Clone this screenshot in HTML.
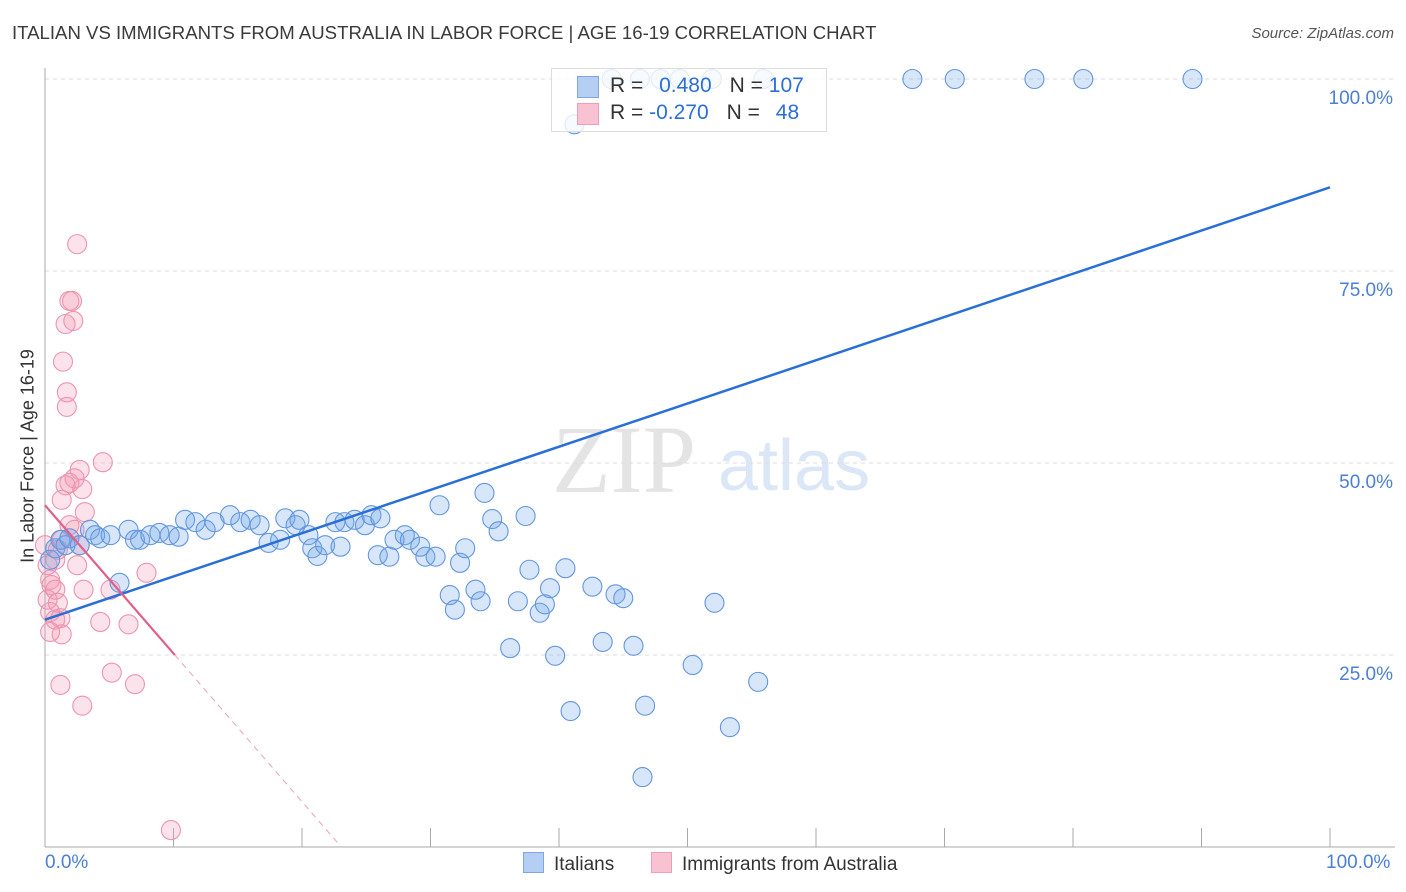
<!DOCTYPE html>
<html><head><meta charset="utf-8">
<style>
body{margin:0;background:#fff;font-family:"Liberation Sans",sans-serif;}
#wrap{position:relative;width:1406px;height:892px;overflow:hidden;}
.t{position:absolute;white-space:nowrap;}
</style></head>
<body>
<div id="wrap">
<div class="t" style="left:12px;top:22px;font-size:18.6px;color:#3a3a3a;">ITALIAN VS IMMIGRANTS FROM AUSTRALIA IN LABOR FORCE | AGE 16-19 CORRELATION CHART</div>
<div class="t" style="right:12px;top:25px;font-size:15px;color:#555;font-style:italic;">Source: ZipAtlas.com</div>
<svg id="chart" width="1406" height="892" style="position:absolute;left:0;top:0"></svg>
</div>
<script>
const blueX=[0.4,0.8,1.2,1.6,1.9,2.7,3.5,3.9,4.3,5.1,5.8,6.5,7.0,7.4,8.2,8.9,9.7,10.4,10.9,11.7,12.5,13.2,14.4,15.2,16.0,16.7,17.4,18.3,18.7,19.5,19.8,20.5,20.8,21.2,21.8,22.6,23.0,23.3,24.1,24.9,25.4,26.1,25.9,26.8,27.2,28.0,28.4,29.2,29.6,30.4,30.7,31.5,31.9,32.3,32.7,33.5,33.9,34.2,34.8,35.3,36.2,36.8,37.4,37.7,38.5,38.9,39.3,39.7,40.5,40.9,41.2,42.6,43.4,44.4,45.0,45.8,46.7,46.5,50.4,52.1,53.3,55.5,44.1,46.3,47.9,49.4,51.9,55.9,67.5,70.8,77.0,80.8,89.3];
const blueY=[37.4,38.9,40.0,39.3,40.2,39.3,41.3,40.6,40.2,40.6,34.4,41.3,40.0,40.0,40.6,40.9,40.6,40.4,42.6,42.3,41.3,42.3,43.2,42.3,42.6,41.9,39.6,40.0,42.8,41.9,42.6,40.6,38.9,37.9,39.3,42.3,39.1,42.3,42.6,41.9,43.2,42.8,38.0,37.8,40.0,40.6,40.0,39.1,37.8,37.8,44.5,32.8,30.9,37.0,38.9,33.5,32.0,46.1,42.7,41.1,25.9,32.0,43.1,36.1,30.5,31.6,33.7,24.9,36.3,17.7,94.1,33.9,26.7,32.9,32.4,26.2,18.4,9.1,23.7,31.8,15.6,21.5,100,100,100,100,100,100,100,100,100,100,100];
const pinkX=[0,0.4,0.5,0.2,0.4,0.8,1.2,0.8,1.0,1.3,1.9,2.3,2.7,3.1,1.3,2.5,1.9,2.1,2.2,1.6,1.4,1.7,1.7,4.5,2.7,2.3,1.9,1.6,2.9,1.3,5.1,4.3,6.5,5.2,7.0,1.2,2.9,7.9,2.5,9.8,0.8,0.2,1.0,0.4,3.0];
const pinkY=[39.3,34.8,34.1,32.2,30.6,29.6,29.8,37.4,38.7,40.0,41.9,41.3,39.3,43.6,27.7,78.5,71.1,71.1,68.5,68.1,63.2,59.2,57.3,50.1,49.1,48.0,47.4,47.1,46.6,45.2,33.5,29.3,29.0,22.7,21.2,21.1,18.4,35.7,36.7,2.2,33.5,36.7,31.8,28.0,33.5];
const yTicks=[25,50,75,100];
const yTickLabels=["25.0%","50.0%","75.0%","100.0%"];
const xTicks=[0,10,20,30,40,50,60,70,80,90,100];
const blueTrend=[29.6,85.9];
const pinkTrend=[44.5,-1.93];
const X0=45,X1=1330,Y0=847,Y1=79;
const sx=v=>X0+(X1-X0)*v/100, sy=v=>Y0-(Y0-Y1)*v/100;
const svg=document.getElementById('chart');const NS='http://www.w3.org/2000/svg';
function mk(t,a){const e=document.createElementNS(NS,t);for(const k in a)e.setAttribute(k,a[k]);svg.appendChild(e);return e;}
let w=mk('text',{x:552,y:492,'font-family':'Liberation Serif,serif','font-size':96,fill:'#e4e4e4'});w.textContent='ZIP';


w=mk('text',{x:718,y:490,'font-family':'Liberation Sans,sans-serif','font-size':72,fill:'#dbe7f6'});w.textContent='atlas';


yTicks.forEach((v,i)=>{
 let g=mk('line',{x1:X0,x2:1395,y1:sy(v),y2:sy(v),stroke:'#dcdcdc','stroke-dasharray':'4,4'});
 
 
 let t=mk('text',{x:1393,y:sy(v)+25,'text-anchor':'end','font-size':19,fill:'#4a7fd4','font-family':'Liberation Sans,sans-serif'});t.textContent=yTickLabels[i];
 
 
});
let ax=mk('line',{x1:X0,x2:X0,y1:68,y2:Y0,stroke:'#aaa'});


ax=mk('line',{x1:X0,x2:1395,y1:Y0,y2:Y0,stroke:'#aaa'});


xTicks.forEach(v=>{let l=mk('line',{x1:sx(v),x2:sx(v),y1:Y0,y2:828,stroke:'#aaa'});
 
 });
function dot(x,y,c,s,name){const e=mk('circle',{cx:sx(x),cy:sy(y),r:9.5,fill:c,stroke:s,'stroke-width':1.1});
 
 }
pinkX.forEach((x,i)=>dot(x,pinkY[i],'rgba(244,150,178,0.28)','#eb94ae','australia-point'));
blueX.forEach((x,i)=>dot(x,blueY[i],'rgba(110,165,232,0.28)','#6396dd','italians-point'));
let l=mk('line',{x1:sx(0),y1:sy(blueTrend[0]),x2:sx(100),y2:sy(blueTrend[1]),stroke:'#2a6fd6','stroke-width':2.5});


const pe=10.1, pz=-pinkTrend[0]/pinkTrend[1];
l=mk('line',{x1:sx(0),y1:sy(pinkTrend[0]),x2:sx(pe),y2:sy(pinkTrend[0]+pinkTrend[1]*pe),stroke:'#e0608a','stroke-width':2.2});


l=mk('line',{x1:sx(pe),y1:sy(pinkTrend[0]+pinkTrend[1]*pe),x2:sx(pz),y2:sy(0),stroke:'#e9a0b8','stroke-width':1,'stroke-dasharray':'6,5'});


</script>
<div class="t" style="left:28px;top:456px;font-size:18px;color:#333;transform:translate(-50%,-50%) rotate(-90deg);">In Labor Force | Age 16-19</div>
<div class="t" style="left:45px;top:852px;font-size:19px;color:#4a7fd4;">0.0%</div>
<div class="t" style="left:1326px;top:852px;font-size:19px;color:#4a7fd4;">100.0%</div>
<div style="position:absolute;left:551px;top:68px;width:274px;height:62px;border:1px solid #ddd;background:rgba(255,255,255,0.8);font-size:21px;">
 <div style="position:absolute;left:25px;top:7px;width:20px;height:20px;background:#b4cff3;border:1px solid #7ea6e3;"></div>
 <div class="t" style="left:58px;top:5px;color:#333;">R = <span style="color:#2a6fd6;margin-left:10px;">0.480</span><span style="margin-left:18px;">N = </span><span style="color:#2a6fd6;">107</span></div>
 <div style="position:absolute;left:25px;top:34px;width:20px;height:20px;background:#f8c2d2;border:1px solid #eba0b8;"></div>
 <div class="t" style="left:58px;top:32px;color:#333;">R = <span style="color:#2a6fd6;">-0.270</span><span style="margin-left:18px;">N = </span><span style="color:#2a6fd6;margin-left:10px;">48</span></div>
</div>
<div style="position:absolute;left:523px;top:852px;font-size:19px;color:#333;">
 <div style="position:absolute;left:0;top:0;white-space:nowrap;"><span style="display:inline-block;width:19px;height:19px;background:#b4cff3;border:1px solid #7ea6e3;vertical-align:-3px;margin-right:10px;"></span>Italians</div>
 <div style="position:absolute;left:128px;top:0;white-space:nowrap;"><span style="display:inline-block;width:19px;height:19px;background:#f8c2d2;border:1px solid #eba0b8;vertical-align:-3px;margin-right:10px;"></span>Immigrants from Australia</div>
</div>
</body></html>
